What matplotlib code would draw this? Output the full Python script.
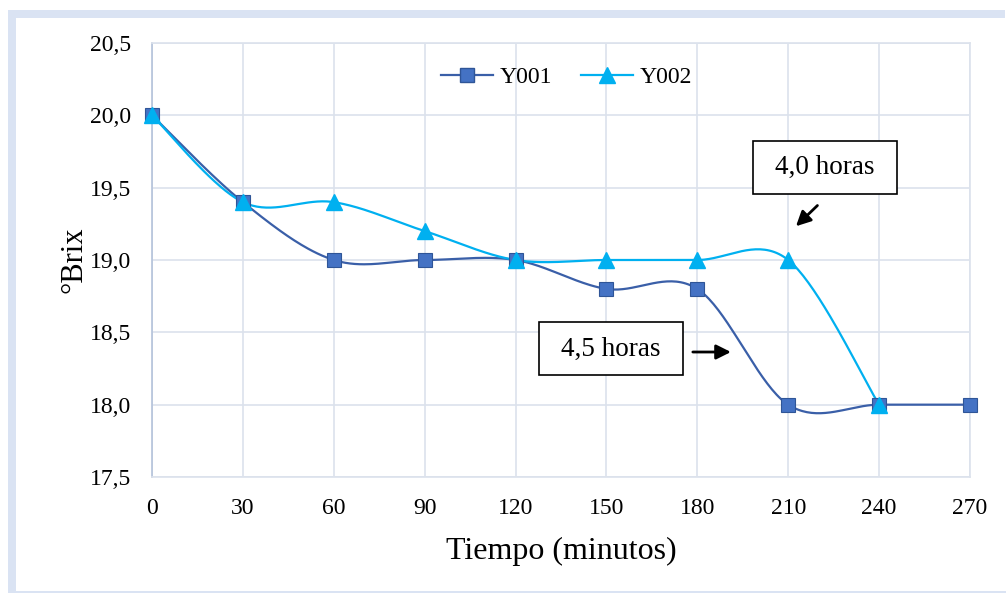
import numpy as np
import matplotlib
matplotlib.use("Agg")
import matplotlib.pyplot as plt
from matplotlib.patches import Rectangle

plt.rcParams['font.family'] = ['Liberation Serif', 'DejaVu Serif']

tiempo_y001 = [0, 30, 60, 90, 120, 150, 180, 210, 240, 270]
brix_y001 = [20.0, 19.4, 19.0, 19.0, 19.0, 18.8, 18.8, 18.0, 18.0, 18.0]
tiempo_y002 = [0, 30, 60, 90, 120, 150, 180, 210, 240]
brix_y002 = [20.0, 19.4, 19.4, 19.2, 19.0, 19.0, 19.0, 19.0, 18.0]
xticks = [0, 30, 60, 90, 120, 150, 180, 210, 240, 270]
yticks = [17.5, 18.0, 18.5, 19.0, 19.5, 20.0, 20.5]


def smooth(xs, ys, n=40):
    # catmull-rom style bezier, like the spreadsheet "smoothed line"
    p = np.column_stack([xs, ys]).astype(float)
    p = np.vstack([p[0], p, p[-1]])
    out = []
    t = np.linspace(0, 1, n)[:, None]
    for i in range(1, len(p) - 2):
        p0, p1, p2, p3 = p[i - 1], p[i], p[i + 1], p[i + 2]
        c1 = p1 + (p2 - p0) / 6
        c2 = p2 - (p3 - p1) / 6
        seg = ((1 - t) ** 3) * p1 + 3 * ((1 - t) ** 2) * t * c1 + 3 * (1 - t) * t ** 2 * c2 + t ** 3 * p2
        out.append(seg)
    out = np.vstack(out)
    return out[:, 0], out[:, 1]


W, H = 1006, 594
fig = plt.figure(figsize=(W / 100, H / 100), dpi=100)
# light blue frame round the chart (left and top thick, bottom thin)
frame = '#DAE3F3'
fig.patches.append(Rectangle((8 / W, 2 / H), 8 / W, 582 / H, transform=fig.transFigure,
                             facecolor=frame, edgecolor='none', zorder=0))
fig.patches.append(Rectangle((8 / W, 1 - 18 / H), 997 / W, 8 / H, transform=fig.transFigure,
                             facecolor=frame, edgecolor='none', zorder=0))
fig.patches.append(Rectangle((8 / W, 1 / H), 998 / W, 2 / H, transform=fig.transFigure,
                             facecolor=frame, edgecolor='none', zorder=0))

ax = fig.add_axes([152 / W, 1 - 477 / H, 818 / W, 434 / H])

c1 = '#4472C4'
c1_line = '#3A5FA8'
c2 = '#00B0F0'

sx, sy = smooth(tiempo_y001, brix_y001)
ax.plot(sx, sy, color=c1_line, lw=1.6, zorder=3)
sx, sy = smooth(tiempo_y002, brix_y002)
ax.plot(sx, sy, color=c2, lw=1.6, zorder=3)
ax.plot(tiempo_y001, brix_y001, ls='none', marker='s', ms=10, mfc=c1, mec='#2F5597', mew=0.8,
        zorder=4, clip_on=False)
ax.plot(tiempo_y002, brix_y002, ls='none', marker='^', ms=11, mfc=c2, mec=c2, zorder=5, clip_on=False)

# legend proxies
h1, = ax.plot([], [], color=c1_line, lw=1.6, marker='s', ms=10, mfc=c1, mec='#2F5597')
h2, = ax.plot([], [], color=c2, lw=1.6, marker='^', ms=11, mfc=c2, mec=c2)
ax.legend([h1, h2], ['Y001', 'Y002'], loc='upper center', bbox_to_anchor=(0.507, 0.995), ncol=2,
          frameon=False, fontsize=17, handlelength=2.2, columnspacing=1.2, handletextpad=0.3)

ax.set_xlim(0, 270)
ax.set_ylim(17.5, 20.5)
ax.set_xticks(xticks)
ax.set_yticks(yticks)
ax.set_yticklabels([f'{v:.1f}'.replace('.', ',') for v in yticks])
ax.tick_params(length=0, labelsize=17)
ax.tick_params(axis='y', pad=15)
ax.tick_params(axis='x', pad=15)
ax.grid(True, color='#DCE2EC', lw=1.2)
ax.set_axisbelow(True)
for s in ['top', 'right', 'bottom']:
    ax.spines[s].set_color('#DCE2EC')
    ax.spines[s].set_linewidth(1.2)
ax.spines['left'].set_color('#B4C2DA')
ax.spines['left'].set_linewidth(1.2)

ax.set_xlabel('Tiempo (minutos)', fontsize=23, labelpad=13)
ax.set_ylabel('°Brix', fontsize=22, labelpad=1)

# callouts
for (cx, cy, txt) in [(222.1, 19.64, '4,0 horas'), (151.5, 18.385, '4,5 horas')]:
    ax.text(cx, cy, txt, ha='center', va='center', fontsize=19.5, zorder=7)
    ax.add_patch(Rectangle((cx - 23.8, cy - 0.183), 47.5, 0.366, facecolor='white',
                           edgecolor='black', lw=1.2, zorder=6))
ax.annotate('', xy=(211.9, 19.22), xytext=(220.3, 19.39),
            arrowprops=dict(arrowstyle='-|>', color='black', lw=2, mutation_scale=22), zorder=7)
ax.annotate('', xy=(192.0, 18.364), xytext=(177.6, 18.364),
            arrowprops=dict(arrowstyle='-|>', color='black', lw=2, mutation_scale=22), zorder=7)

fig.savefig('out.png', dpi=100)
